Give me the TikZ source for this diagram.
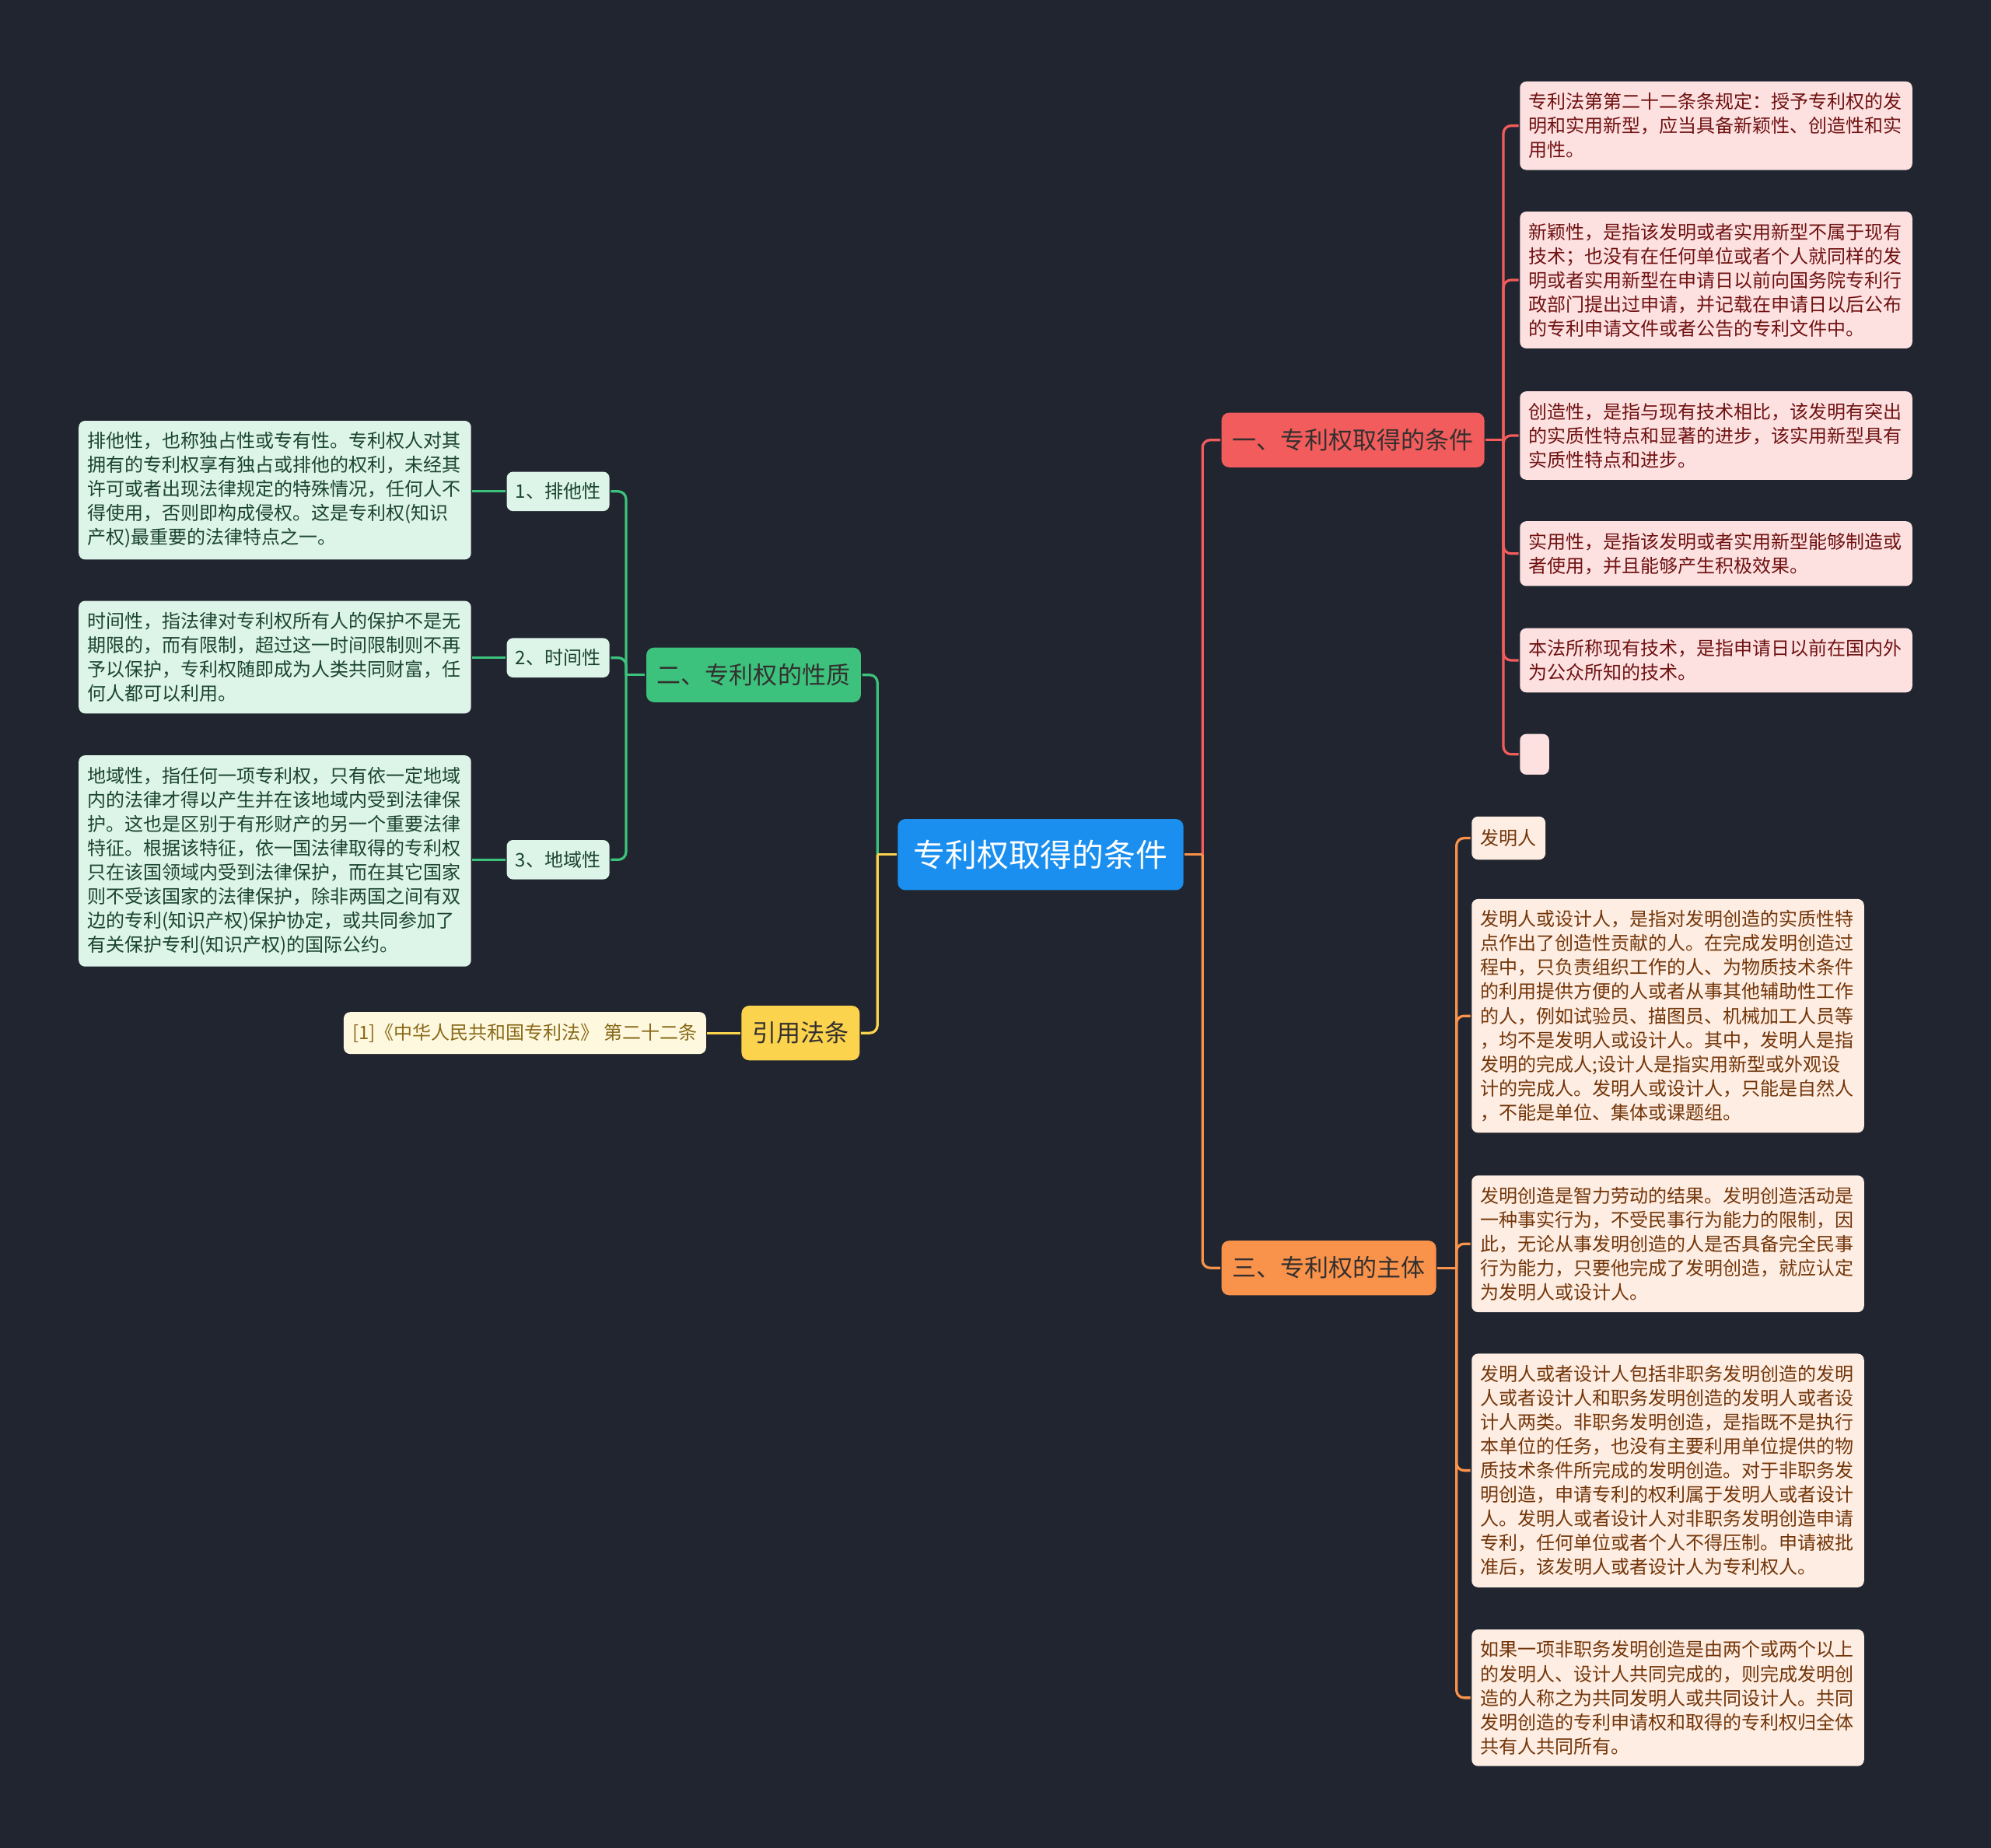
\documentclass[tikz,border=0pt]{standalone}
\usepackage{fontspec}
\setmainfont{Noto Sans CJK SC}
\usetikzlibrary{positioning,calc}
\definecolor{bg}{HTML}{21252F}
\definecolor{rootc}{HTML}{1A8FEF}
\definecolor{redc}{HTML}{F25C5C}
\definecolor{orgc}{HTML}{F9924A}
\definecolor{grnc}{HTML}{3CC27C}
\definecolor{ylwc}{HTML}{FCD34D}
\definecolor{brtext}{HTML}{33302F}
\definecolor{pinkc}{HTML}{FDE1E1}
\definecolor{pinktext}{HTML}{701212}
\definecolor{peachc}{HTML}{FEEDE2}
\definecolor{peachtext}{HTML}{73360A}
\definecolor{lgrn}{HTML}{DDF4E8}
\definecolor{grntext}{HTML}{1B4530}
\definecolor{lylw}{HTML}{FEF8DE}
\definecolor{ylwtext}{HTML}{8A6A1A}
\begin{document}
\begin{tikzpicture}[x=1pt,y=-1pt,line width=2pt]
\tikzstyle{leaf}=[rounded corners=5pt,anchor=west,text width=295pt,align=left,inner xsep=7pt,inner ysep=9pt,font=\fontsize{14.7}{19}\selectfont]
\tikzstyle{sub}=[rounded corners=5pt,minimum height=31pt,inner xsep=7pt,font=\fontsize{14.7}{19}\selectfont]
\tikzstyle{br}=[rounded corners=6pt,minimum height=43pt,inner xsep=8.5pt,text=brtext,font=\fontsize{19}{22}\selectfont]
\useasboundingbox (0,0) rectangle (1568,1455);
\fill[bg] (0,0) rectangle (1568,1455);
\node[rounded corners=6pt,fill=rootc,text=white,minimum height=56pt,inner xsep=12.5pt,font=\fontsize{25}{28}\selectfont] (root) at (819.5,673) {专利权取得的条件};
\node[br,fill=redc,anchor=west] (b1) at (961,346.5) {一、专利权取得的条件};
\node[br,fill=orgc,anchor=west] (b3) at (961,998.5) {三、专利权的主体};
\node[br,fill=grnc,anchor=east] (b2) at (679,531.5) {二、专利权的性质};
\node[br,fill=ylwc,anchor=east] (b4) at (678,813.5) {引用法条};
% 一
\foreach \k/\y/\t in {1/99/{专利法第第二十二条条规定：授予专利权的发\\明和实用新型，应当具备新颖性、创造性和实\\用性。},
  2/220.5/{新颖性，是指该发明或者实用新型不属于现有\\技术；也没有在任何单位或者个人就同样的发\\明或者实用新型在申请日以前向国务院专利行\\政部门提出过申请，并记载在申请日以后公布\\的专利申请文件或者公告的专利文件中。},
  3/343/{创造性，是指与现有技术相比，该发明有突出\\的实质性特点和显著的进步，该实用新型具有\\实质性特点和进步。},
  4/436/{实用性，是指该发明或者实用新型能够制造或\\者使用，并且能够产生积极效果。},
  5/520/{本法所称现有技术，是指申请日以前在国内外\\为公众所知的技术。}}
  \node[leaf,fill=pinkc,text=pinktext] (r\k) at (1196,\y) {\t};
\node[rounded corners=5pt,fill=pinkc,minimum width=23pt,minimum height=32pt,inner sep=0pt,anchor=west] (r6) at (1196,594) {};
% 二
\foreach \k/\y/\t in {1/387/{1、排他性},2/518/{2、时间性},3/677/{3、地域性}}
  \node[sub,fill=lgrn,text=grntext,anchor=east] (s\k) at (481,\y) {\t};
\foreach \k/\y/\t in {1/386/{排他性，也称独占性或专有性。专利权人对其\\拥有的专利权享有独占或排他的权利，未经其\\许可或者出现法律规定的特殊情况，任何人不\\得使用，否则即构成侵权。这是专利权(知识\\产权)最重要的法律特点之一。},
  2/517.5/{时间性，指法律对专利权所有人的保护不是无\\期限的，而有限制，超过这一时间限制则不再\\予以保护，专利权随即成为人类共同财富，任\\何人都可以利用。},
  3/678/{地域性，指任何一项专利权，只有依一定地域\\内的法律才得以产生并在该地域内受到法律保\\护。这也是区别于有形财产的另一个重要法律\\特征。根据该特征，依一国法律取得的专利权\\只在该国领域内受到法律保护，而在其它国家\\则不受该国家的法律保护，除非两国之间有双\\边的专利(知识产权)保护协定，或共同参加了\\有关保护专利(知识产权)的国际公约。}}
  \node[leaf,fill=lgrn,text=grntext,anchor=east] (l\k) at (372,\y) {\t};
% 引用法条
\node[sub,fill=lylw,text=ylwtext,minimum height=33pt,anchor=east] (q1) at (557,813.5) {[1]《中华人民共和国专利法》 第二十二条};
% 三
\node[sub,fill=peachc,text=peachtext,minimum height=34pt,anchor=west] (p1) at (1158,660) {发明人};
\foreach \k/\y/\t in {2/800/{发明人或设计人，是指对发明创造的实质性特\\点作出了创造性贡献的人。在完成发明创造过\\程中，只负责组织工作的人、为物质技术条件\\的利用提供方便的人或者从事其他辅助性工作\\的人，例如试验员、描图员、机械加工人员等\\，均不是发明人或设计人。其中，发明人是指\\发明的完成人;设计人是指实用新型或外观设\\计的完成人。发明人或设计人，只能是自然人\\，不能是单位、集体或课题组。},
  3/979.5/{发明创造是智力劳动的结果。发明创造活动是\\一种事实行为，不受民事行为能力的限制，因\\此，无论从事发明创造的人是否具备完全民事\\行为能力，只要他完成了发明创造，就应认定\\为发明人或设计人。},
  4/1158/{发明人或者设计人包括非职务发明创造的发明\\人或者设计人和职务发明创造的发明人或者设\\计人两类。非职务发明创造，是指既不是执行\\本单位的任务，也没有主要利用单位提供的物\\质技术条件所完成的发明创造。对于非职务发\\明创造，申请专利的权利属于发明人或者设计\\人。发明人或者设计人对非职务发明创造申请\\专利，任何单位或者个人不得压制。申请被批\\准后，该发明人或者设计人为专利权人。},
  5/1337/{如果一项非职务发明创造是由两个或两个以上\\的发明人、设计人共同完成的，则完成发明创\\造的人称之为共同发明人或共同设计人。共同\\发明创造的专利申请权和取得的专利权归全体\\共有人共同所有。}}
  \node[leaf,fill=peachc,text=peachtext] (p\k) at (1158,\y) {\t};
% connectors
\coordinate (jr) at ($(root.east)+(14,0)$);
\coordinate (jl) at ($(root.west)+(-15,0)$);
\coordinate (j1) at ($(b1.east)+(14,0)$);
\coordinate (j2) at ($(b2.west)+(-15,0)$);
\coordinate (j3) at ($(b3.east)+(15,0)$);
\draw[redc,rounded corners=6pt] (jr) |- (b1.west);
\draw[orgc,rounded corners=6pt] (jr) |- (b3.west);
\draw[orgc] (root.east) -- (jr);
\draw[grnc,rounded corners=6pt] (jl) |- (b2.east);
\draw[ylwc,rounded corners=6pt] (jl) |- (b4.east);
\draw[ylwc] (root.west) -- (jl);
\draw[redc] (b1.east) -- (j1);
\foreach \k in {1,...,6} \draw[redc,rounded corners=6pt] (j1) |- (r\k.west);
\draw[grnc] (b2.west) -- (j2);
\foreach \k in {1,2,3} {
  \draw[grnc,rounded corners=6pt] (j2) |- (s\k.east);
  \draw[grnc] (s\k.west) -- (s\k.west -| l\k.east);
}
\draw[ylwc] (b4.west) -- (q1.east);
\draw[orgc] (b3.east) -- (j3);
\foreach \k in {1,...,5} \draw[orgc,rounded corners=6pt] (j3) |- (p\k.west);
\end{tikzpicture}
\end{document}
